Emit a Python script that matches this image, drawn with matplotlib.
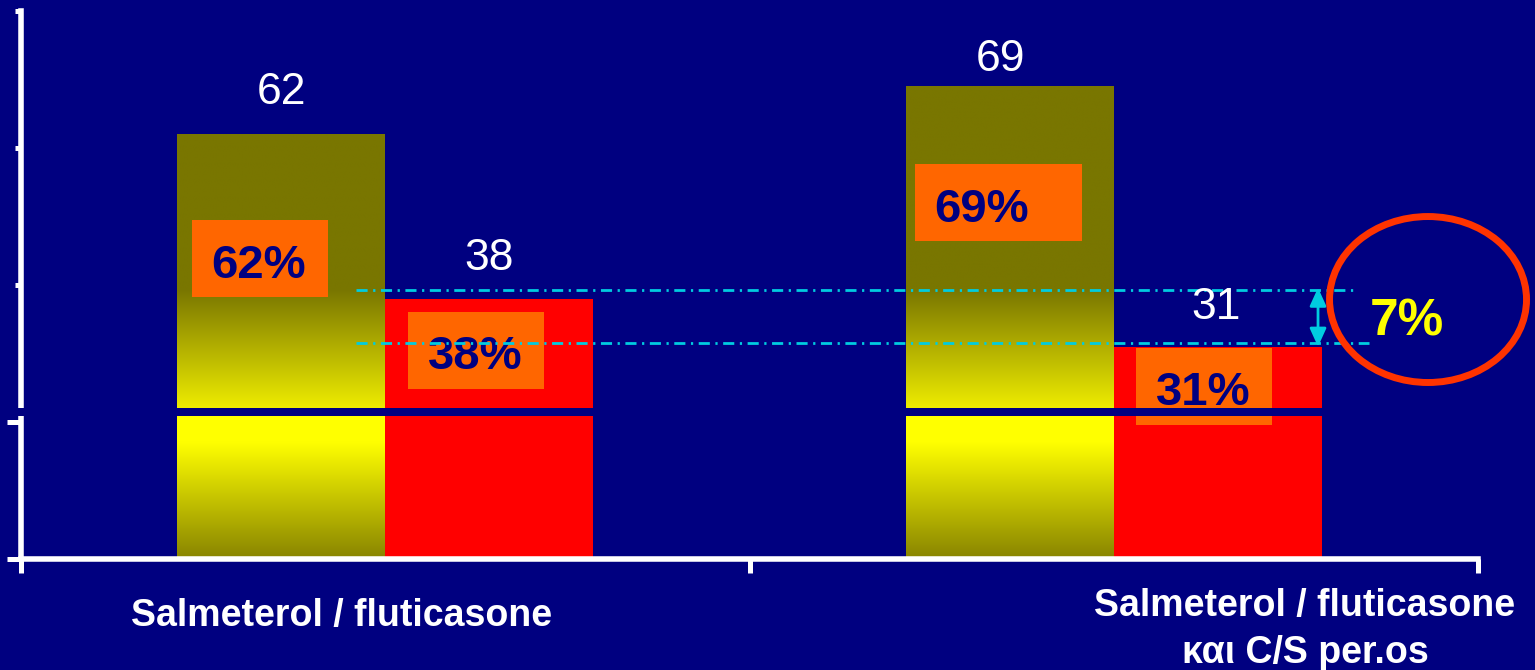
import numpy as np
import matplotlib
matplotlib.use("Agg")
import matplotlib.pyplot as plt
from matplotlib.patches import Rectangle, Ellipse

# ---- data -------------------------------------------------------------
categories = ["Salmeterol / fluticasone",
              "Salmeterol / fluticasone\nκαι C/S per.os"]
first_share = [62, 69]     # gradient (yellow / olive) bars
second_share = [38, 31]    # red bars
y_ticks = [0, 20, 40, 60, 80]
difference_text = "7%"

# ---- style ------------------------------------------------------------
NAVY = "#000080"
RED = "#FF0000"
ORANGE = "#FF6600"
CYAN = "#00CCE0"
RING = "#FF3300"
FONT = "Liberation Sans"

W, H, DPI = 1535, 670, 100
fig = plt.figure(figsize=(W / DPI, H / DPI), dpi=DPI, facecolor=NAVY)
ax = fig.add_axes([21 / W, (H - 559) / H, (1478 - 21) / W, (559 - 11) / H],
                  facecolor=NAVY)

x = np.arange(len(categories))
bw = 0.2855
bars1 = ax.bar(x - bw / 2, first_share, width=bw, color="none",
               linewidth=0, zorder=2)
bars2 = ax.bar(x + bw / 2, second_share, width=bw, color=RED,
               linewidth=0, zorder=2)

# vertical colour ramp of the first bars (olive -> yellow -> olive)
stop_y = [0, 17, 20.9, 22.0, 39.3, 200]
stop_r = [136, 255, 255, 238, 121, 121]
stop_g = [132, 255, 255, 236, 118, 118]
for p in bars1:
    x0, h = p.get_x(), p.get_height()
    ys = np.linspace(0, h, 800)
    img = np.zeros((len(ys), 1, 3))
    img[:, 0, 0] = np.interp(ys, stop_y, stop_r) / 255
    img[:, 0, 1] = np.interp(ys, stop_y, stop_g) / 255
    ax.imshow(img, extent=(x0, x0 + p.get_width(), 0, h), origin="lower",
              aspect="auto", interpolation="bilinear", zorder=2)

ax.set_xlim(-0.5, 1.5)
ax.set_ylim(0, 80)

# value numbers above the bars
value_offsets = [[(0, 30), (-9, 15)], [(0, 29), (-2, 28)]]
for series, bars, offs in ((first_share, bars1, value_offsets[0]),
                           (second_share, bars2, value_offsets[1])):
    for p, v, (dx, dy) in zip(bars, series, offs):
        ax.annotate(f"{v}", xy=(p.get_x() + p.get_width() / 2, v),
                    xytext=(dx, dy), textcoords="offset pixels",
                    ha="center", va="baseline", fontsize=32,
                    color="white", family=FONT, zorder=7)

# percentage tags (orange boxes)
tag_boxes = [[(-0.2653, 38.25, 0.1867), (0.7272, 46.42, 0.2292)],
             [(0.0312, 24.82, 0.1867), (1.0305, 19.56, 0.1867)]]
tag_text_pos = [[(-0.1733, 41.02), (0.8191, 49.2)],
                [(0.1232, 27.74), (1.1225, 22.48)]]
tag_h = 11.24
for series, boxes, tpos in ((first_share, tag_boxes[0], tag_text_pos[0]),
                            (second_share, tag_boxes[1], tag_text_pos[1])):
    for v, (bx, by, bwid), (tx, ty) in zip(series, boxes, tpos):
        ax.add_patch(Rectangle((bx, by), bwid, tag_h, facecolor=ORANGE,
                               linewidth=0, zorder=4))
        ax.text(tx, ty, f"{v}%", ha="center", va="baseline", fontsize=34,
                fontweight="bold", color=NAVY, family=FONT, zorder=5)

# axis break band
ax.axhspan(20.9, 22.0, xmin=-0.02, xmax=1.0, color=NAVY, linewidth=0,
           zorder=6, clip_on=False)

# difference guides and arrow
guide_levels = [39.27, 31.53]
guide_ends = [1.331, 1.350]
for gy, gx1 in zip(guide_levels, guide_ends):
    ax.plot([-0.0401, gx1], [gy, gy], color=CYAN, lw=2,
            ls=(0, (4, 2, 0.8, 2)), clip_on=False, zorder=5)
ax.annotate("", xy=(1.2804, 31.0), xytext=(1.2804, 39.6),
            arrowprops=dict(arrowstyle="<|-|>,head_length=0.55,head_width=0.25",
                            color=CYAN, lw=2, mutation_scale=20,
                            shrinkA=0, shrinkB=0),
            zorder=5)
ax.add_patch(Ellipse((1.4314, 37.88), 0.2704, 24.23, fill=False,
                     edgecolor=RING, linewidth=5, clip_on=False, zorder=5))
ax.text(1.4025, 32.7, difference_text, ha="center", va="baseline",
        fontsize=37, fontweight="bold", color="#FFFF00", family=FONT,
        zorder=7)

# axes: white spines, outward ticks, no tick labels
for side in ("top", "right"):
    ax.spines[side].set_visible(False)
for side in ("left", "bottom"):
    ax.spines[side].set_color("white")
    ax.spines[side].set_linewidth(4)
    ax.spines[side].set_capstyle("projecting")
    ax.spines[side].set_zorder(5)
ax.set_yticks(y_ticks)
ax.set_yticklabels([])
ax.set_xticks([-0.5, 0.5, 1.5])
ax.set_xticklabels([])
ax.tick_params(axis="y", direction="out", length=4.3, width=3.6,
               color="white")
ax.tick_params(axis="x", direction="out", length=10, width=3.6,
               color="white")
for loc, tick in zip(y_ticks, ax.yaxis.get_major_ticks()):
    if loc <= 20:
        tick.tick1line.set_markersize(10)

# category captions
caption_pos = [(342, 598), (1305, 588)]
for cat, (px, py) in zip(categories, caption_pos):
    fig.text(px / W, (H - py) / H, cat, ha="center", va="top",
             ma="center", fontsize=27, fontweight="bold", color="white",
             family=FONT, linespacing=1.38)

fig.savefig("out.png", dpi=DPI, facecolor=NAVY)
